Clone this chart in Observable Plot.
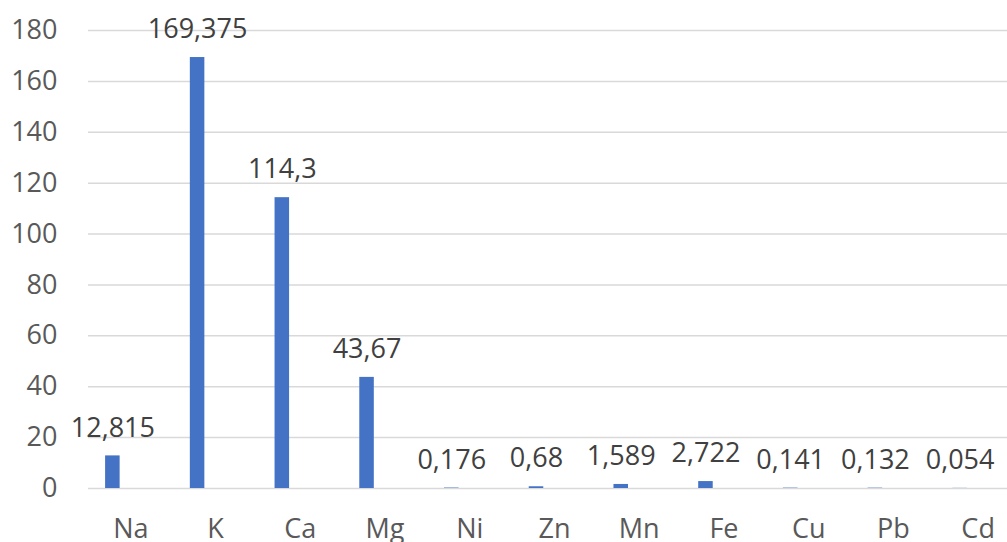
<!DOCTYPE html>
<html>
<head>
<meta charset="utf-8">
<script src="https://cdn.jsdelivr.net/npm/d3@7"></script>
<script src="https://cdn.jsdelivr.net/npm/@observablehq/plot@0.6"></script>
<style>
  html, body { margin: 0; padding: 0; background: #fff; overflow: hidden; }
  #chart { width: 1007px; height: 542px; overflow: hidden; }
  #chart svg { max-width: none !important; }
</style>
</head>
<body>
<div id="chart"></div>
<script>
// Element concentrations
const elements = ["Na", "K", "Ca", "Mg", "Ni", "Zn", "Mn", "Fe", "Cu", "Pb", "Cd"];
const values = [12.815, 169.375, 114.3, 43.67, 0.176, 0.68, 1.589, 2.722, 0.141, 0.132, 0.054];
const yTicks = [0, 20, 40, 60, 80, 100, 120, 140, 160, 180];

const data = elements.map((el, i) => ({el, v: values[i]}));
const fmt = v => String(v).replace(".", ",");

const font = "'Open Sans', sans-serif";

const chart = Plot.plot({
  width: 1030,
  height: 542,
  marginLeft: 88,
  marginRight: 10,
  marginTop: 30,
  marginBottom: 54,
  style: {fontFamily: font, fontSize: "27px", color: "#595959", background: "#fff", overflow: "visible", maxWidth: "none"},
  x: {type: "band", domain: elements, padding: 0, round: false, label: null},
  y: {domain: [0, 180], label: null},
  marks: [
    Plot.ruleY(yTicks, {stroke: "#d9d9d9", strokeWidth: 1.5}),
    Plot.axisY({ticks: yTicks, tickSize: 0, tickPadding: 31, fill: "#595959", label: null}),
    Plot.axisX({tickSize: 0, tickPadding: 30, fill: "#595959", label: null}),
    Plot.barY(data, {x: "el", y: "v", fill: "#4472C4", insetLeft: 17.1, insetRight: 53.1}),
    Plot.text(data, {
      x: "el", y: "v", text: d => fmt(d.v),
      dx: -18, dy: -28, fill: "#404040", fontSize: 27
    })
  ]
});

document.getElementById("chart").appendChild(chart);
</script>
</body>
</html>
